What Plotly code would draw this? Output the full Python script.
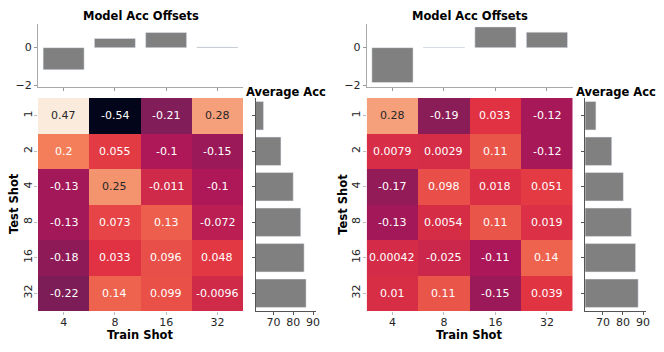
import plotly.graph_objects as go

train_shots = ["4", "8", "16", "32"]
test_shots = ["1", "2", "4", "8", "16", "32"]

# accuracy offsets (rows = test shot, cols = train shot)
left_offsets = [
    [0.47, -0.54, -0.21, 0.28],
    [0.2, 0.055, -0.1, -0.15],
    [-0.13, 0.25, -0.011, -0.1],
    [-0.13, 0.073, 0.13, -0.072],
    [-0.18, 0.033, 0.096, 0.048],
    [-0.22, 0.14, 0.099, -0.0096],
]
right_offsets = [
    [0.28, -0.19, 0.033, -0.12],
    [0.0079, 0.0029, 0.11, -0.12],
    [-0.17, 0.098, 0.018, 0.051],
    [-0.13, 0.0054, 0.11, 0.019],
    [0.00042, -0.025, -0.11, 0.14],
    [0.01, 0.11, -0.15, 0.039],
]
left_model_offsets = [-1.17, 0.49, 0.8, 0.03]
right_model_offsets = [-1.85, 0.02, 1.1, 0.82]
left_avg_acc = [65.0, 73.8, 80.0, 83.8, 85.5, 86.5]
right_avg_acc = [66.5, 74.4, 80.2, 84.2, 86.3, 87.6]

# seaborn "rocket"
rocket = [
    [0.0, "#03051a"], [0.143, "#35193e"], [0.286, "#701f57"], [0.429, "#ad1759"],
    [0.571, "#e13342"], [0.714, "#f37651"], [0.857, "#f6b48f"], [1.0, "#faebdd"],
]
vmin, vmax = -0.54, 0.47

W, H = 664, 352
def px_x(a, b):
    return [a / W, b / W]
def px_y(top, bot):
    return [1 - bot / H, 1 - top / H]

FONT = "DejaVu Sans"
GRAY = "#808080"
fig = go.Figure()
panels = [
    dict(z=left_offsets, model=left_model_offsets, avg=left_avg_acc, hx=(38, 243), ax=(256, 316), n=0),
    dict(z=right_offsets, model=right_model_offsets, avg=right_avg_acc, hx=(366.7, 572.7), ax=(585.3, 646), n=1),
]
layout = {}
annotations = []


def label(x, y, text, size=11.5, angle=0):
    annotations.append(dict(x=x / W, y=1 - y / H, xref="paper", yref="paper",
                            xanchor="center", yanchor="middle", textangle=angle,
                            text=f"<b>{text}</b>", showarrow=False,
                            font=dict(family=FONT, size=size, color="black")))


for p in panels:
    i = p["n"]
    hx, hy, tx, ty, avx, avy = [f"{k}{3 * i + j + 1 if 3 * i + j else ''}" for j, k in
                                 [(0, "x"), (0, "y"), (1, "x"), (1, "y"), (2, "x"), (2, "y")]]
    fig.add_trace(go.Heatmap(z=p["z"], x=train_shots, y=test_shots, colorscale=rocket,
                             zmin=vmin, zmax=vmax, showscale=False, xgap=0, ygap=0,
                             xaxis=hx, yaxis=hy, hoverinfo="z"))
    for r, row in enumerate(p["z"]):
        for c, v in enumerate(row):
            # category axes: annotation positions are category indices
            annotations.append(dict(x=c, y=r, xref=hx, yref=hy,
                                    text=format(v, ".2g"), showarrow=False,
                                    font=dict(family=FONT, size=11,
                                              color="#262626" if v >= 0.25 else "white")))
    fig.add_trace(go.Bar(x=train_shots, y=p["model"], marker_color=GRAY, width=0.8,
                         xaxis=tx, yaxis=ty, showlegend=False))
    fig.add_trace(go.Bar(y=test_shots, x=p["avg"], orientation="h", marker_color=GRAY,
                         width=0.8, base=0, xaxis=avx, yaxis=avy, showlegend=False))

    def key(a):
        return a.replace("x", "xaxis").replace("y", "yaxis")
    layout[key(hx)] = dict(domain=px_x(*p["hx"]), anchor=hy, type="category",
                           range=[-0.5, 3.5], automargin=False,
                           ticks="outside", ticklen=3, tickcolor="#bbb",
                           ticklabelstandoff=-2,
                           tickfont=dict(family=FONT, size=11, color="#262626"),
                           showgrid=False, zeroline=False)
    layout[key(hy)] = dict(domain=px_y(98, 311), anchor=hx, type="category",
                           range=[5.5, -0.5], automargin=False,
                           ticks="outside", ticklen=3, tickcolor="#bbb",
                           tickangle=-90, ticklabelstandoff=-2,
                           tickfont=dict(family=FONT, size=11, color="#262626"),
                           showgrid=False, zeroline=False)
    layout[key(tx)] = dict(domain=px_x(*p["hx"]), anchor=ty, type="category",
                           range=[-0.5, 3.5], automargin=False,
                           showticklabels=False, ticks="outside",
                           ticklen=3, tickcolor="#999", showline=True, linecolor="#aaa",
                           showgrid=False, zeroline=False)
    layout[key(ty)] = dict(domain=px_y(23.5, 86.5), anchor=tx, range=[-2.06, 1.28],
                           automargin=False,
                           tickvals=[-2, 0], ticks="outside", ticklen=3, tickcolor="#999",
                           showline=True, linecolor="#aaa", showgrid=False, zeroline=False,
                           tickfont=dict(family=FONT, size=11, color="#262626"))
    layout[key(avx)] = dict(domain=px_x(*p["ax"]), anchor=avy, range=[61.2, 91.5],
                            automargin=False,
                            tickvals=[70, 80, 90], ticks="outside", ticklen=3,
                            tickcolor="#555", showline=True, linecolor="#555",
                            showgrid=False, zeroline=False, ticklabelstandoff=-2,
                            tickfont=dict(family=FONT, size=11, color="#262626"))
    layout[key(avy)] = dict(domain=px_y(98, 311), anchor=avx, type="category",
                            range=[5.5, -0.5], automargin=False,
                            showticklabels=False, ticks="outside",
                            ticklen=3, tickcolor="#555", showline=True, linecolor="#555",
                            showgrid=False, zeroline=False)
    hmid = sum(p["hx"]) / 2
    label(hmid, 16, "Model Acc Offsets", size=11.5)
    label(sum(p["ax"]) / 2, 92, "Average Acc", size=11.5)
    label(hmid, 334.5, "Train Shot")
    label(p["hx"][0] - 24, 204, "Test Shot", angle=-90)

fig.update_layout(**layout)
fig.update_layout(width=W, height=H, margin=dict(l=0, r=0, t=0, b=0),
                  plot_bgcolor="white", paper_bgcolor="white", showlegend=False,
                  annotations=annotations, bargap=0.2,
                  font=dict(family=FONT, size=11, color="#262626"))
# drop the browser's default page margin so the figure sits at the window origin
fig.write_html("out.html", config={"displayModeBar": False},
               post_script="document.body.style.margin='0';")
